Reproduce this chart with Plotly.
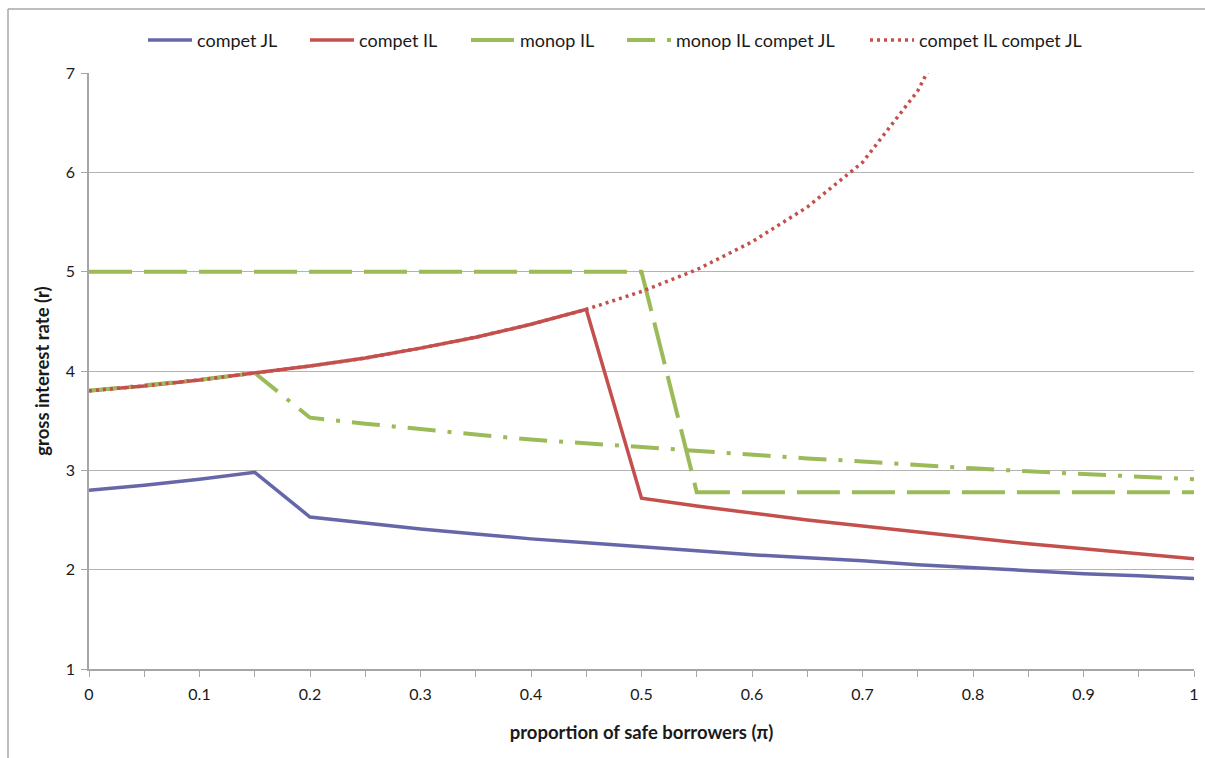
import plotly.graph_objects as go

pi_vals = [0.0, 0.05, 0.1, 0.15, 0.2, 0.25, 0.3, 0.35, 0.4, 0.45, 0.5,
           0.55, 0.6, 0.65, 0.7, 0.75, 0.8, 0.85, 0.9, 0.95, 1.0]

compet_jl = [2.80, 2.85, 2.91, 2.98, 2.53, 2.47, 2.41, 2.36, 2.31, 2.27, 2.23,
             2.19, 2.15, 2.12, 2.09, 2.05, 2.02, 1.99, 1.96, 1.94, 1.91]
compet_il = [3.80, 3.85, 3.91, 3.98, 4.05, 4.13, 4.23, 4.34, 4.47, 4.62, 2.72,
             2.64, 2.57, 2.50, 2.44, 2.38, 2.32, 2.26, 2.21, 2.16, 2.11]
monop_il = [5.0, 5.0, 5.0, 5.0, 5.0, 5.0, 5.0, 5.0, 5.0, 5.0, 5.0,
            2.78, 2.78, 2.78, 2.78, 2.78, 2.78, 2.78, 2.78, 2.78, 2.78]
monop_il_compet_jl = [3.80, 3.85, 3.91, 3.98, 3.53, 3.47, 3.41, 3.36, 3.31, 3.27, 3.23,
                      3.19, 3.15, 3.12, 3.09, 3.05, 3.02, 2.99, 2.96, 2.94, 2.91]
compet_il_compet_jl = [3.80, 3.85, 3.91, 3.98, 4.05, 4.13, 4.23, 4.34, 4.47, 4.62, 4.80,
                       5.02, 5.30, 5.65, 6.10, 6.82, 7.90, None, None, None, None]

series_names = ["compet JL", "compet IL", "monop IL", "monop IL compet JL", "compet IL compet JL"]
x_tick_vals = [0, 0.1, 0.2, 0.3, 0.4, 0.5, 0.6, 0.7, 0.8, 0.9, 1]
x_tick_text = ["0", "0.1", "0.2", "0.3", "0.4", "0.5", "0.6", "0.7", "0.8", "0.9", "1"]
y_tick_vals = [1, 2, 3, 4, 5, 6, 7]

FONT = "Lato"
TXT = "#1a1a1a"
BLUE = "#6667a9"
RED = "#c4504d"
GREEN = "#9bbb59"

PLOT_W = 1205 - 89 - 11
PLOT_H = 758 - 73 - 89

fig = go.Figure()
fig.add_trace(go.Scatter(x=pi_vals, y=compet_jl, mode="lines", name=series_names[0],
                         legendwidth=103, line=dict(color=BLUE, width=3.5)))
fig.add_trace(go.Scatter(x=pi_vals, y=compet_il, mode="lines", name=series_names[1],
                         legendwidth=102, line=dict(color=RED, width=3.5)))
fig.add_trace(go.Scatter(x=pi_vals, y=monop_il, mode="lines", name=series_names[2],
                         legendwidth=97, line=dict(color=GREEN, width=4, dash="43px,12px")))
fig.add_trace(go.Scatter(x=pi_vals, y=monop_il_compet_jl, mode="lines", name=series_names[3],
                         legendwidth=184, line=dict(color=GREEN, width=4, dash="28px,12px,4px,12px")))
fig.add_trace(go.Scatter(x=pi_vals, y=compet_il_compet_jl, mode="lines", name=series_names[4],
                         line=dict(color=RED, width=3.5, dash="3px,4px"), connectgaps=False))

fig.update_layout(
    width=1205, height=758,
    margin=dict(l=89, r=11, t=73, b=89, autoexpand=False),
    paper_bgcolor="white", plot_bgcolor="white",
    font=dict(family=FONT, size=16, color=TXT),
    showlegend=True,
    legend=dict(orientation="h", x=(148 - 5 - 89) / PLOT_W, xanchor="left",
                y=1.055, yanchor="middle",
                font=dict(family=FONT, size=18, color=TXT),
                itemwidth=44, tracegroupgap=0, bgcolor="rgba(0,0,0,0)"),
    xaxis=dict(range=[0, 1], tickvals=x_tick_vals, ticktext=x_tick_text, automargin=False,
               showgrid=False, zeroline=False, showline=True, linecolor="#a6a6a6", linewidth=1.5,
               ticks="outside", ticklen=6, tickcolor="#a6a6a6", tickwidth=1,
               ticklabelstandoff=4,
               minor=dict(dtick=0.05, tick0=0, ticks="outside", ticklen=6, tickcolor="#a6a6a6", showgrid=False),
               tickfont=dict(family=FONT, size=16, color=TXT),
               title=dict(text="<b>proportion of safe borrowers (π)</b>", standoff=24,
                          font=dict(family=FONT, size=18.5, color=TXT))),
    yaxis=dict(range=[1, 7], tickvals=y_tick_vals, automargin=False,
               showgrid=True, gridcolor="#b3b3b3", gridwidth=1.2,
               zeroline=False, showline=True, linecolor="#a6a6a6", linewidth=1.5,
               ticks="outside", ticklen=6, tickcolor="#a6a6a6",
               ticklabelstandoff=3,
               tickfont=dict(family=FONT, size=16, color=TXT),
               title=dict(text="<b>gross interest rate (r)</b>", standoff=11,
                          font=dict(family=FONT, size=18.5, color=TXT))),
    shapes=[
        dict(type="line", xref="paper", yref="paper", x0=-81 / PLOT_W, x1=(1205 - 89) / PLOT_W,
             y0=1 + 64 / PLOT_H, y1=1 + 64 / PLOT_H,
             line=dict(color="#a8a8a8", width=1.5)),
        dict(type="line", xref="paper", yref="paper", x0=-81 / PLOT_W, x1=-81 / PLOT_W,
             y0=1 + 64 / PLOT_H, y1=-89 / PLOT_H,
             line=dict(color="#a8a8a8", width=1.5)),
    ],
)

fig.write_html("out.html", config={"displayModeBar": False},
               post_script="document.body.style.margin='0';document.body.style.overflow='hidden';")
